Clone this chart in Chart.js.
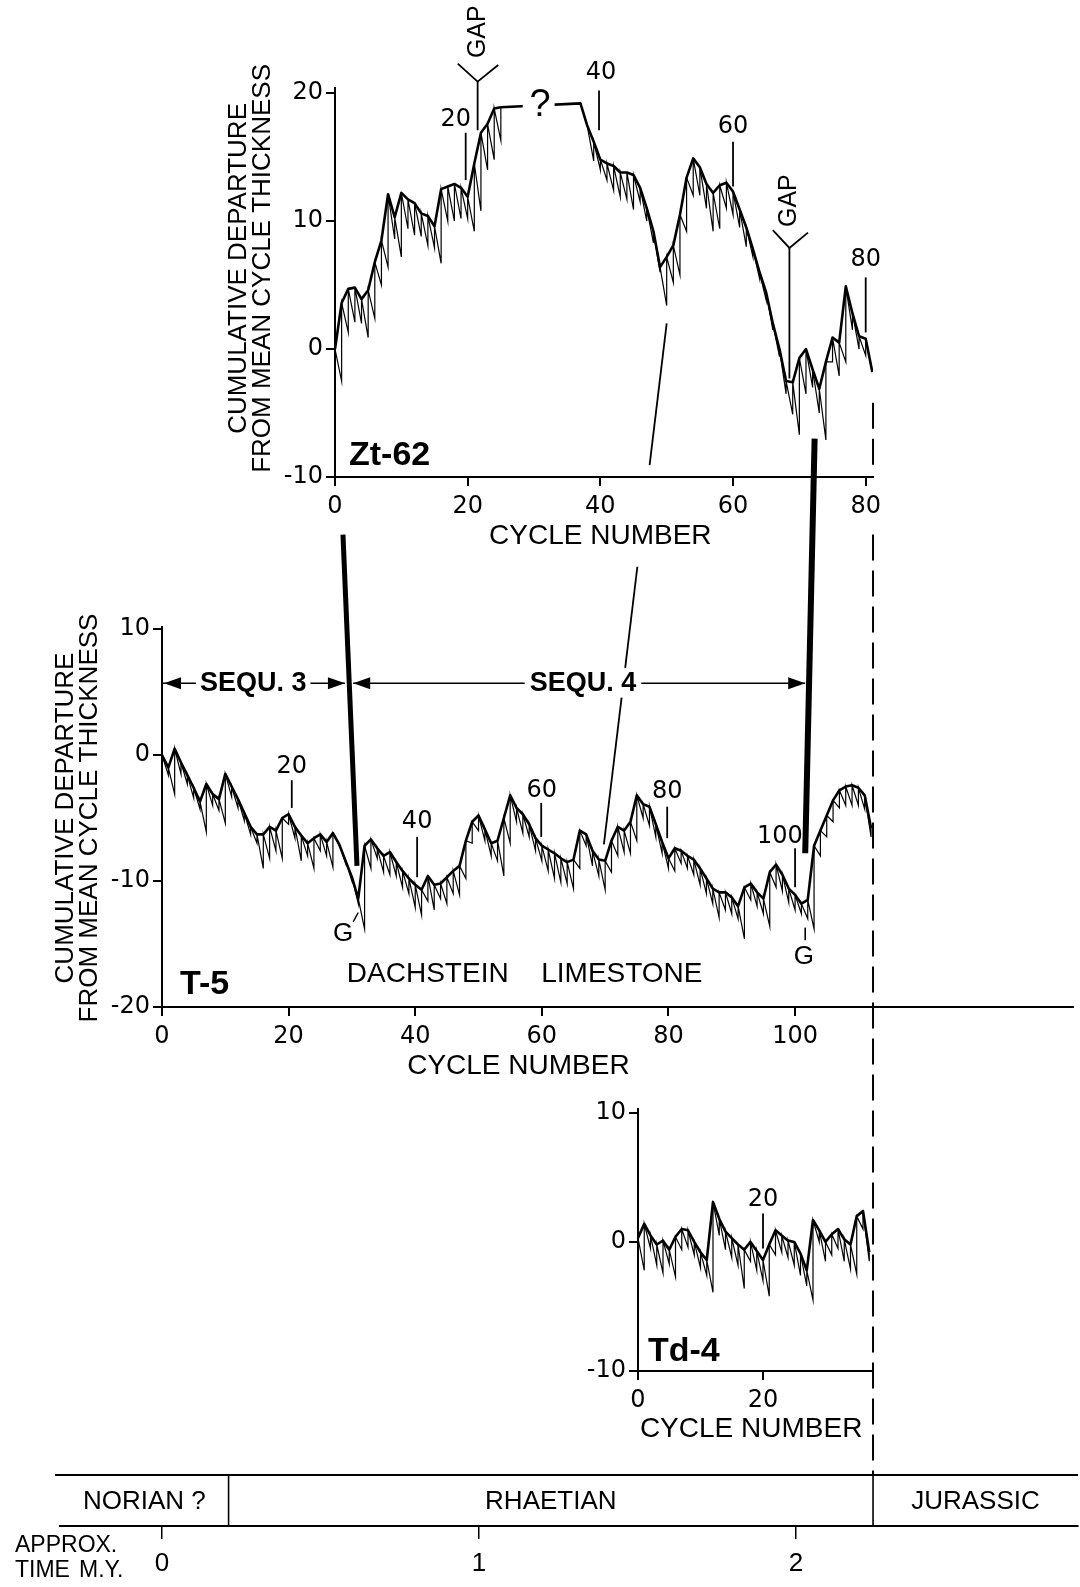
<!DOCTYPE html>
<html>
<head>
<meta charset="utf-8">
<script src="https://cdn.jsdelivr.net/npm/chart.js@4/dist/chart.umd.min.js"></script>
<style>
  html, body { margin: 0; padding: 0; background: #fff; }
  #wrap { position: relative; width: 1080px; height: 1587px; overflow: hidden; }
  #wrap canvas { position: absolute; left: 0; top: 0; }
</style>
</head>
<body>
<div id="wrap">
  <canvas id="zt62" width="1080" height="1587"></canvas>
  <canvas id="t5" width="1080" height="1587"></canvas>
  <canvas id="td4" width="1080" height="1587"></canvas>
  <canvas id="time" width="1080" height="1587"></canvas>
  <canvas id="links" width="1080" height="1587"></canvas>
</div>
<script>
const FONT = '"Liberation Sans", Arial, Helvetica, sans-serif'
const NUMFONT = '"DejaVu Sans", "Liberation Sans", sans-serif'
Chart.defaults.font.family = FONT
Chart.defaults.color = "#000"

// cumulative departure from mean cycle thickness, one value per cycle
// (top = upper trace, low = bottom of each sawtooth tooth)
const zt62Top = [0, 3.6, 4.7, 4.8, 3.9, 4.6, 6.8, 8.5, 12.1, 10.3, 12.2, 11.7, 11.4, 10.6, 10.4, 9.6,
  12.5, 12.7, 12.9, 12.6, 11.9, 14.5, 16.9, 17.6, 18.8, 18.9,
  null, null, null, null, null, null, null, null, null, null, null,
  19.2, 17.5, 16.2, 14.8, 14.5, 14.3, 13.8, 13.8, 13.6, 12.6, 11.0, 9.2, 6.4, 7.2, 8.1, 10.5, 13.4,
  14.9, 14.2, 12.9, 12.2, 12.8, 13.0, 12.3, 10.9, 9.5, 7.8, 6.0, 4.4, 2.0, 0.0, -2.5, -2.6, -0.7,
  0.0, -1.6, -3.1, -1.0, 0.9, 0.5, 4.9, 2.8, 1.0, 0.8, -1.8]
const zt62Low = [null, -2.5, 1.3, 2.1, 2.0, 0.9, 2.4, 5.0, 6.4, 8.6, 7.2, 9.4, 8.9, 8.8, 8.1, 7.9,
  6.7, 10.0, 10.0, 10.2, 10.2, 9.2, 10.8, 14.0, 14.8, 16.3,
  null, null, null, null, null, null, null, null, null, null, null,
  null, null, 14.7, 14.0, 13.2, 12.4, 11.9, 11.7, 10.9, 11.5, 10.0, 8.3, 6.0, 3.4, 5.2, 5.8, 9.2,
  12.0, 12.0, 11.0, 9.2, 9.4, 11.0, 10.5, 9.5, 8.0, 7.2, 5.5, 3.8, 1.5, -0.6, -3.5, -5.1, -6.7,
  -3.5, -3.0, -5.0, -7.1, -1.0, -2.1, -1.0, 1.5, 0.0, -0.5, null]

const t5Top = [0, -1.0, 0.5, -0.6, -1.6, -2.6, -3.7, -2.3, -3.1, -3.5,
  -1.5, -2.5, -3.5, -4.6, -5.7, -6.3, -6.3, -5.7, -6.0, -5.0,
  -4.7, -5.7, -6.4, -7.0, -6.6, -6.3, -6.9, -6.2, -7.1, -8.4,
  -9.7, -11.4, -7.2, -6.7, -7.4, -8.0, -7.7, -8.5, -9.2, -9.8,
  -10.3, -10.7, -9.6, -10.3, -10.2, -9.7, -9.2, -8.8, -6.8, -5.3,
  -4.8, -5.9, -7.0, -6.8, -5.0, -3.2, -4.2, -4.7, -5.5, -6.6,
  -7.2, -7.5, -7.8, -8.2, -8.5, -8.3, -6.0, -6.3, -7.6, -8.3,
  -8.4, -6.8, -5.7, -6.0, -5.3, -3.2, -3.9, -4.1, -5.5, -6.9,
  -8.2, -7.4, -7.6, -8.0, -8.3, -9.0, -9.8, -10.6, -10.9, -10.9,
  -11.3, -12.0, -10.5, -10.2, -10.9, -11.4, -9.3, -8.7, -9.5, -10.6,
  -11.1, -11.8, -11.5, -7.2, -6.0, -4.8, -3.6, -2.8, -2.5, -2.4,
  -2.6, -3.2, -5.8]
const t5Low = [null, -1.6, -3.1, -1.5, -2.3, -3.4, -4.3, -6.1, -4.0, -4.4, -5.4,
  -3.3, -4.2, -5.2, -6.3, -7.0, -9.0, -8.2, -7.6, -8.2, -5.5,
  -6.6, -8.4, -8.0, -9.0, -7.6, -8.0, -8.9, -7.2, -8.6, -10.0,
  -11.8, -13.8, -9.0, -8.2, -9.3, -9.5, -9.6, -10.5, -11.0, -12.1,
  -12.7, -11.6, -12.3, -11.4, -11.8, -11.0, -11.1, -9.8, -7.0, -6.0,
  -6.8, -8.0, -8.4, -9.6, -7.0, -5.3, -6.2, -6.5, -7.6, -8.4,
  -9.2, -9.8, -10.1, -10.2, -10.6, -9.0, -7.2, -8.8, -9.6, -10.7,
  -9.3, -8.0, -7.7, -7.8, -6.8, -5.0, -5.6, -6.5, -7.8, -9.0,
  -9.2, -8.6, -9.0, -9.5, -10.3, -11.0, -11.8, -12.9, -12.3, -12.6,
  -13.0, -14.6, -11.5, -12.0, -12.6, -13.6, -10.5, -10.8, -11.7, -12.3,
  -12.6, -13.0, -13.8, -8.0, -6.5, -5.3, -4.2, -4.0, -4.0, -4.0,
  -4.3, -6.5]

const td4Top = [0.3, 1.4, 0.5, -0.2, 0.1, -0.6, 0.4, 1.0, 0.9, 0.0,
  -0.8, -1.4, 3.1, 1.8, 0.8, 0.3, -0.2, -0.6, 0.0, -0.7,
  -1.4, -0.2, 0.9, 0.5, 0.1, 0.0, -0.9, -2.2, 1.7, 0.9,
  0.0, 0.6, 1.0, 0.2, -0.2, 2.0, 2.4, -0.8]
const td4Low = [null, -2.2, -0.5, -1.8, -2.4, -1.7, -2.7, -0.6, -0.4, -1.0, -2.0,
  -2.6, -3.9, 0.5, -0.6, -1.2, -1.8, -3.6, -1.5, -2.2, -3.0,
  -4.2, -1.0, -0.8, -1.2, -1.8, -2.6, -3.4, -4.5, 0.0, -1.5,
  -1.0, -0.5, -1.5, -2.1, -2.5, 1.0, -1.5]

// time scale (m.y.)
const stageNames = ["NORIAN ?", "RHAETIAN", "JURASSIC"]
const stageBounds = [0.21, 2.243]

function sawtooth(top, low) {
  const pts = []
  for (let i = 0; i < top.length; i++) {
    if (top[i] === null) { pts.push({ x: i, y: null }); continue }
    if (i > 0 && top[i - 1] !== null && low[i] !== null) pts.push({ x: i, y: low[i] })
    pts.push({ x: i, y: top[i] })
  }
  return pts
}

function txt(ctx, s, x, y, o = {}) {
  const size = o.size || 26
  ctx.save()
  ctx.font = (o.bold ? "bold " : "") + size + "px " + (o.family || FONT)
  ctx.textAlign = o.align || "center"
  ctx.textBaseline = "middle"
  ctx.translate(x, y)
  if (o.rot) ctx.rotate(o.rot)
  if (o.bg) {
    const w = ctx.measureText(s).width
    const x0 = ctx.textAlign === "center" ? -w / 2 : (ctx.textAlign === "left" ? 0 : -w)
    ctx.fillStyle = "#fff"
    ctx.fillRect(x0 - o.bg, -size * 0.45, w + 2 * o.bg, size * 0.9)
  }
  ctx.fillStyle = "#000"
  ctx.fillText(s, 0, 0)
  ctx.restore()
}

function path(ctx, pts, w, dash) {
  ctx.save()
  ctx.strokeStyle = "#000"
  ctx.lineWidth = w
  ctx.setLineDash(dash || [])
  ctx.beginPath()
  pts.forEach(([x, y], i) => i ? ctx.lineTo(x, y) : ctx.moveTo(x, y))
  ctx.stroke()
  ctx.restore()
}

function head(ctx, x, y, dir) {
  ctx.save()
  ctx.fillStyle = "#000"
  ctx.beginPath()
  ctx.moveTo(x, y)
  ctx.lineTo(x - dir * 17, y - 6)
  ctx.lineTo(x - dir * 17, y + 6)
  ctx.closePath()
  ctx.fill()
  ctx.restore()
}

function scalers(chart) {
  return [v => chart.scales.x.getPixelForValue(v), v => chart.scales.y.getPixelForValue(v)]
}

function marker(ctx, sx, sy, c, v1, v2, label, lc, lv) {
  path(ctx, [[sx(c), sy(v1)], [sx(c), sy(v2)]], 1.8)
  txt(ctx, label, sx(lc), sy(lv), { size: 24, family: NUMFONT })
}

function gapMark(ctx, x, yv, yb, a1, a2, ty) {
  path(ctx, [a1, [x, yv], a2], 1.8)
  path(ctx, [[x, yv], [x, yb]], 1.8)
  txt(ctx, "GAP", x, ty, { size: 25, rot: -Math.PI / 2 })
}

function yTitle(ctx, a, y) {
  txt(ctx, "CUMULATIVE DEPARTURE", a.left - 96, y, { size: 26, rot: -Math.PI / 2 })
  txt(ctx, "FROM MEAN CYCLE THICKNESS", a.left - 72, y, { size: 26, rot: -Math.PI / 2 })
}

function decorZt(chart) {
  const { ctx, chartArea: a } = chart
  const [sx, sy] = scalers(chart)
  ctx.save()
  ctx.fillStyle = "#fff"
  ctx.fillRect(sx(28.3), sy(19.1) - 6, sx(33.1) - sx(28.3), 12)
  ctx.restore()
  txt(ctx, "?", sx(30.9), sy(19.0), { size: 38 })
  marker(ctx, sx, sy, 19.7, 13.2, 16.9, "20", 18.2, 17.9)
  marker(ctx, sx, sy, 39.8, 17.1, 20.2, "40", 40.1, 21.6)
  marker(ctx, sx, sy, 60.0, 12.7, 16.2, "60", 60.0, 17.4)
  marker(ctx, sx, sy, 80.0, 1.3, 5.6, "80", 80.0, 7.0)
  gapMark(ctx, sx(21.5), sy(20.9), sy(17.1), [sx(18.5), sy(22.3)], [sx(24.6), sy(22.2)], sy(24.8))
  gapMark(ctx, sx(68.5), sy(7.9), sy(-2.3), [sx(66.0), sy(9.3)], [sx(71.3), sy(9.1)], sy(11.6))
  txt(ctx, "Zt-62", a.left + 14, sy(-8.3), { bold: true, size: 34, align: "left" })
  txt(ctx, "CYCLE NUMBER", sx(40), a.bottom + 59, { size: 28 })
  yTitle(ctx, a, sy(6.3))
}

function decorT5(chart) {
  const { ctx, chartArea: a } = chart
  const [sx, sy] = scalers(chart)
  const ya = sy(5.7)
  path(ctx, [[sx(0), ya], [sx(28.9), ya]], 1.6)
  head(ctx, sx(0) + 2, ya, -1)
  head(ctx, sx(28.9), ya, 1)
  txt(ctx, "SEQU. 3", sx(14.4), ya, { bold: true, size: 27, bg: 4 })
  path(ctx, [[sx(30.2), ya], [sx(101.6), ya]], 1.6)
  head(ctx, sx(30.2), ya, -1)
  head(ctx, sx(101.6), ya, 1)
  txt(ctx, "SEQU. 4", sx(66.5), ya, { bold: true, size: 27, bg: 5 })
  marker(ctx, sx, sy, 20.5, -4.2, -2.0, "20", 20.5, -0.9)
  marker(ctx, sx, sy, 40.3, -9.7, -6.5, "40", 40.3, -5.3)
  marker(ctx, sx, sy, 59.9, -6.5, -3.8, "60", 60.0, -2.8)
  marker(ctx, sx, sy, 79.8, -6.6, -4.1, "80", 79.8, -2.9)
  marker(ctx, sx, sy, 100.0, -10.5, -7.4, "100", 97.6, -6.5)
  txt(ctx, "G", sx(28.6), sy(-14.2), { size: 26 })
  path(ctx, [[sx(30.2), sy(-13.25)], [sx(31.0), sy(-12.5)]], 1.4)
  txt(ctx, "G", sx(101.4), sy(-16.0), { size: 26 })
  path(ctx, [[sx(101.6), sy(-13.7)], [sx(101.6), sy(-14.7)]], 1.6)
  txt(ctx, "T-5", a.left + 18, sy(-18.2), { bold: true, size: 34, align: "left" })
  txt(ctx, "DACHSTEIN", sx(29.2), sy(-17.4), { size: 28, align: "left" })
  txt(ctx, "LIMESTONE", sx(59.9), sy(-17.4), { size: 28, align: "left" })
  txt(ctx, "CYCLE NUMBER", sx(56.3), a.bottom + 59, { size: 28 })
  yTitle(ctx, a, sy(-5.0))
}

function decorTd(chart) {
  const { ctx, chartArea: a } = chart
  const [sx, sy] = scalers(chart)
  marker(ctx, sx, sy, 20, -0.5, 2.2, "20", 20, 3.3)
  txt(ctx, "Td-4", sx(1.6), sy(-8.5), { bold: true, size: 34, align: "left" })
  txt(ctx, "CYCLE NUMBER", sx(18.1), a.bottom + 58, { size: 28 })
}

function decorTime(chart) {
  const { ctx, chartArea: a } = chart
  const sx = v => chart.scales.x.getPixelForValue(v)
  path(ctx, [[a.left - 5, a.top], [a.right, a.top]], 2)
  stageBounds.forEach(b => path(ctx, [[sx(b), a.top], [sx(b), a.bottom]], 1.6))
  const edges = [a.left, ...stageBounds.map(sx), a.right]
  stageNames.forEach((n, i) => txt(ctx, n, (edges[i] + edges[i + 1]) / 2, (a.top + a.bottom) / 2 + 1, { size: 26 }))
  txt(ctx, "APPROX.", 15, 1546, { size: 23, align: "left" })
  txt(ctx, "TIME", 15, 1571, { size: 23, align: "left" })
  txt(ctx, "M.Y.", 79, 1571, { size: 23, align: "left" })
}

const axisLine = {
  grid: { drawOnChartArea: false, drawTicks: true, tickLength: 9, color: "#000", lineWidth: 2 },
  border: { display: true, color: "#000", width: 2 }
}

function fischer(id, box, top, low, xMax, xTickMax, yMin, yMax, decorate) {
  const W = 80, H = 45
  return new Chart(document.getElementById(id), {
    type: "line",
    data: {
      datasets: [
        { data: top.map((y, x) => ({ x, y })), borderColor: "#000", borderWidth: 2.6,
          pointRadius: 0, spanGaps: true, borderJoinStyle: "round" },
        { data: sawtooth(top, low), borderColor: "#000", borderWidth: 1.2,
          pointRadius: 0, spanGaps: false }
      ]
    },
    options: {
      responsive: false,
      animation: false,
      events: [],
      layout: { padding: { left: box.left - W, right: 1080 - box.right, top: box.top, bottom: 1587 - box.bottom - H } },
      plugins: { legend: { display: false }, tooltip: { enabled: false } },
      scales: {
        x: {
          type: "linear", min: 0, max: xMax,
          afterFit: s => { s.height = H },
          afterBuildTicks: s => { s.ticks = s.ticks.filter(t => t.value <= xTickMax) },
          ticks: { stepSize: 20, includeBounds: false, padding: 6, maxRotation: 0, autoSkip: false,
                   font: { size: 24, family: NUMFONT } },
          ...axisLine
        },
        y: {
          type: "linear", min: yMin, max: yMax,
          afterFit: s => { s.width = W },
          ticks: { stepSize: 10, includeBounds: false, padding: 3, font: { size: 24, family: NUMFONT } },
          ...axisLine
        }
      }
    },
    plugins: [{ id: "decor", afterDraw: decorate }]
  })
}

const zt = fischer("zt62", { left: 335, right: 873, top: 88, bottom: 477 }, zt62Top, zt62Low, 81.1, 80, -10, 20.4, decorZt)
const t5 = fischer("t5", { left: 162, right: 1073, top: 627, bottom: 1007 }, t5Top, t5Low, 143.9, 100, -20, 10.16, decorT5)
const td = fischer("td4", { left: 638, right: 873, top: 1109, bottom: 1371 }, td4Top, td4Low, 37.6, 20, -10, 10.3, decorTd)

const time = new Chart(document.getElementById("time"), {
  type: "line",
  data: { datasets: [] },
  options: {
    responsive: false,
    animation: false,
    events: [],
    layout: { padding: { left: 60, right: 2, top: 1475, bottom: 11 } },
    plugins: { legend: { display: false }, tooltip: { enabled: false } },
    scales: {
      x: {
        type: "linear", min: -0.3218, max: 2.8896,
        afterFit: s => { s.height = 50 },
        ticks: { stepSize: 1, includeBounds: false, padding: 9, maxRotation: 0, font: { size: 26 } },
        grid: { drawOnChartArea: false, drawTicks: true, tickLength: 13, color: "#000", lineWidth: 1.5 },
        border: { display: true, color: "#000", width: 2 }
      },
      y: { display: false, min: 0, max: 1 }
    }
  },
  plugins: [{ id: "decor", afterDraw: decorTime }]
})

// correlation lines between sections and the Triassic/Jurassic boundary
const lctx = document.getElementById("links").getContext("2d")
const at = (chart, c, v) => [chart.scales.x.getPixelForValue(c), chart.scales.y.getPixelForValue(v)]

path(lctx, [at(zt, 1.2, -14.5), at(t5, 30.8, -8.8)], 5)
path(lctx, [at(zt, 72.3, -7.0), at(t5, 101.6, -7.8)], 6)

const p0 = at(zt, 50.0, 2.0), p1 = at(t5, 69.8, -7.1)
const lerp = t => [p0[0] + (p1[0] - p0[0]) * t, p0[1] + (p1[1] - p0[1]) * t]
;[[0, 0.272], [0.467, 0.661], [0.718, 1]].forEach(([t0, t1]) => path(lctx, [lerp(t0), lerp(t1)], 1.8))

// boundary: broken where it passes the Zt-62 "80" tick label
const bx = time.scales.x.getPixelForValue(stageBounds[1])
const zy = v => zt.scales.y.getPixelForValue(v)
path(lctx, [[bx, zy(-4.2)], [bx, zy(-9.1)]], 2, [26, 10])
path(lctx, [[bx, zy(-14.5)], [bx, time.chartArea.top]], 2, [26, 10])
</script>
</body>
</html>
